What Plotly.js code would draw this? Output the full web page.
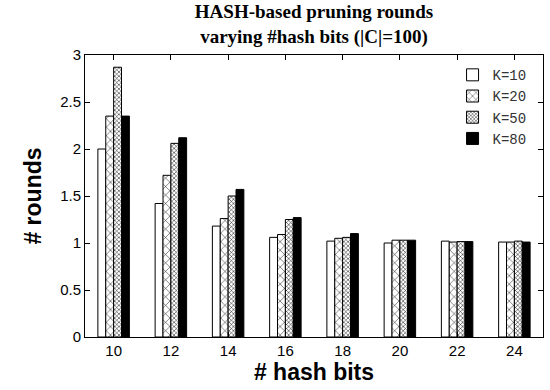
<!DOCTYPE html>
<html><head><meta charset="utf-8">
<script src="https://cdn.plot.ly/plotly-3.0.1.min.js"></script>
<style>body{margin:0;background:#fff}#c{width:550px;height:390px}</style>
</head><body><div id="c"></div>
<script>
const bits = ["10","12","14","16","18","20","22","24"];
const k10 = [2.00, 1.42, 1.18, 1.06, 1.02, 1.00, 1.02, 1.01];
const k20 = [2.35, 1.72, 1.26, 1.09, 1.05, 1.03, 1.01, 1.01];
const k50 = [2.87, 2.06, 1.50, 1.25, 1.06, 1.03, 1.015, 1.02];
const k80 = [2.35, 2.12, 1.57, 1.27, 1.10, 1.03, 1.015, 1.01];
const names = ["K=10","K=20","K=50","K=80"];

const line = {color:'#000', width:1};
const traces = [
  {x:bits, y:k10, name:names[0], type:'bar', marker:{color:'#fff', line:line}},
  {x:bits, y:k20, name:names[1], type:'bar', marker:{color:'#fff', line:line, pattern:{shape:'x', size:6, solidity:0.15, fgcolor:'#000', bgcolor:'#fff'}}},
  {x:bits, y:k50, name:names[2], type:'bar', marker:{color:'#fff', line:line, pattern:{shape:'x', size:3, solidity:0.3, fgcolor:'#000', bgcolor:'#fff'}}},
  {x:bits, y:k80, name:names[3], type:'bar', marker:{color:'#000', line:line}}
];
const layout = {
  width:550, height:390,
  margin:{l:85, r:7, t:55, b:53},
  paper_bgcolor:'#fff', plot_bgcolor:'#fff',
  barmode:'group', bargap:0.45, bargroupgap:0,
  showlegend:true,
  legend:{x:0.975, y:0.985, xanchor:'right', yanchor:'top', bgcolor:'rgba(0,0,0,0)',
    font:{family:'Liberation Mono, monospace', size:14, color:'#333'}, tracegroupgap:0, itemwidth:30},
  title:{text:'<b>HASH-based pruning rounds</b><br><b>varying #hash bits (|C|=100)</b>',
    font:{family:'Liberation Serif, serif', size:19, color:'#000'}, x:0.5, xref:'paper', xanchor:'center',
    yref:'container', y:0.938, yanchor:'bottom', pad:{b:6}},
  xaxis:{type:'category', showline:true, mirror:'ticks', linecolor:'#000', linewidth:1,
    ticks:'inside', ticklen:5, tickcolor:'#000', showgrid:false,
    tickfont:{family:'Liberation Sans, Arial, sans-serif', size:15, color:'#000'},
    title:{text:'<b># hash bits</b>', font:{family:'Liberation Sans, Arial, sans-serif', size:23, color:'#000'}, standoff:2}},
  yaxis:{range:[0,3], dtick:0.5, showline:true, mirror:'ticks', linecolor:'#000', linewidth:1,
    ticks:'inside', ticklen:5, tickcolor:'#000', showgrid:false, zeroline:false,
    tickfont:{family:'Liberation Sans, Arial, sans-serif', size:15, color:'#000'},
    title:{text:'<b># rounds</b>', font:{family:'Liberation Sans, Arial, sans-serif', size:23, color:'#000'}, standoff:12}}
};
Plotly.newPlot('c', traces, layout, {displayModeBar:false, staticPlot:true});
</script></body></html>
